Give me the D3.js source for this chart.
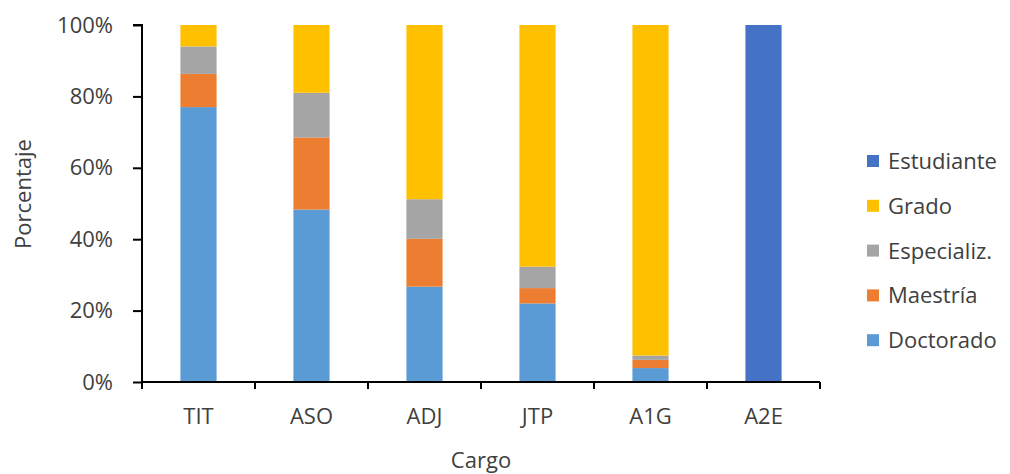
<!DOCTYPE html>
<html>
<head>
<meta charset="utf-8">
<script src="https://cdn.jsdelivr.net/npm/d3@7"></script>
<style>
  html, body { margin: 0; padding: 0; background: #fff; }
  svg text { font-family: "Open Sans", "Liberation Sans", sans-serif; fill: #404040; }
</style>
</head>
<body>
<svg id="chart" width="1010" height="474"></svg>
<script>
// Categorías (cargo docente)
const cargos = ["TIT", "ASO", "ADJ", "JTP", "A1G", "A2E"];

// Porcentaje por nivel de formación, en el orden de los cargos
const doctorado   = [77.0, 48.3, 26.7, 22.0, 3.9, 0];
const maestria    = [9.3, 20.2, 13.4, 4.3, 2.3, 0];
const especializ  = [7.7, 12.5, 11.1, 6.0, 1.2, 0];
const grado       = [6.0, 19.0, 48.8, 67.7, 92.6, 0];
const estudiante  = [0, 0, 0, 0, 0, 100];

const serieNombres = ["Doctorado", "Maestría", "Especializ.", "Grado", "Estudiante"];
const serieValores = [doctorado, maestria, especializ, grado, estudiante];
const colores = ["#5B9BD5", "#ED7D31", "#A5A5A5", "#FFC000", "#4472C4"];

const yTicks = [0, 20, 40, 60, 80, 100];

const rows = cargos.map((c, i) => {
  const r = { cargo: c };
  serieNombres.forEach((s, k) => { r[s] = serieValores[k][i]; });
  return r;
});

const svg = d3.select("#chart");
const margin = { left: 142, right: 190, top: 25, bottom: 92 };
const W = 1010, H = 474;

const x = d3.scaleBand()
  .domain(cargos)
  .range([margin.left, 820])
  .paddingInner(0.68)
  .paddingOuter(0.34);

const y = d3.scaleLinear()
  .domain([0, 100])
  .range([382, margin.top]);

const color = d3.scaleOrdinal().domain(serieNombres).range(colores);

const stacked = d3.stack().keys(serieNombres)(rows);

// Barras apiladas
svg.append("g")
  .selectAll("g")
  .data(stacked)
  .join("g")
    .attr("fill", d => color(d.key))
  .selectAll("rect")
  .data(d => d)
  .join("rect")
    .attr("x", d => x(d.data.cargo))
    .attr("width", x.bandwidth())
    .attr("y", d => y(d[1]))
    .attr("height", d => y(d[0]) - y(d[1]));

// Eje Y
const yAxis = svg.append("g")
  .attr("transform", `translate(${margin.left},0)`)
  .call(d3.axisLeft(y).tickValues(yTicks).tickFormat(d => d + "%").tickSize(9).tickPadding(20));
yAxis.select(".domain").attr("stroke", "#000").attr("stroke-width", 2).attr("d", `M-9,${y(100)}H0V${y(0)}`);
yAxis.selectAll(".tick line").attr("stroke", "#000").attr("stroke-width", 2);
yAxis.selectAll(".tick text").attr("font-size", 22).style("fill", "#404040");

// Eje X con marcas entre categorías
const xAxisG = svg.append("g").attr("transform", `translate(0,${y(0)})`);
xAxisG.append("line")
  .attr("x1", margin.left - 1).attr("x2", 820)
  .attr("stroke", "#000").attr("stroke-width", 2);
const step = x.step();
const bordes = d3.range(cargos.length + 1).map(i => x.range()[0] + i * (x.range()[1] - x.range()[0]) / cargos.length);
xAxisG.selectAll("line.sep")
  .data(bordes)
  .join("line")
    .attr("class", "sep")
    .attr("x1", d => d).attr("x2", d => d)
    .attr("y1", 0).attr("y2", 7)
    .attr("stroke", "#000").attr("stroke-width", 2);
xAxisG.selectAll("text.cat")
  .data(cargos)
  .join("text")
    .attr("class", "cat")
    .attr("x", d => x(d) + x.bandwidth() / 2)
    .attr("y", 42)
    .attr("text-anchor", "middle")
    .attr("font-size", 22)
    .text(d => d);

// Títulos de ejes
svg.append("text")
  .attr("x", 481).attr("y", 468)
  .attr("text-anchor", "middle")
  .attr("font-size", 22)
  .text("Cargo");

svg.append("text")
  .attr("transform", "translate(31,194) rotate(-90)")
  .attr("text-anchor", "middle")
  .attr("font-size", 22)
  .text("Porcentaje");

// Leyenda (orden inverso al apilado)
const leyenda = serieNombres.slice().reverse();
const lg = svg.append("g");
const item = lg.selectAll("g")
  .data(leyenda)
  .join("g")
    .attr("transform", (d, i) => `translate(867,${161 + i * 44.8})`);
item.append("rect")
  .attr("x", 0).attr("y", -6)
  .attr("width", 12).attr("height", 12)
  .attr("fill", d => color(d));
item.append("text")
  .attr("x", 21).attr("y", 8)
  .attr("font-size", 22)
  .text(d => d);
</script>
</body>
</html>
